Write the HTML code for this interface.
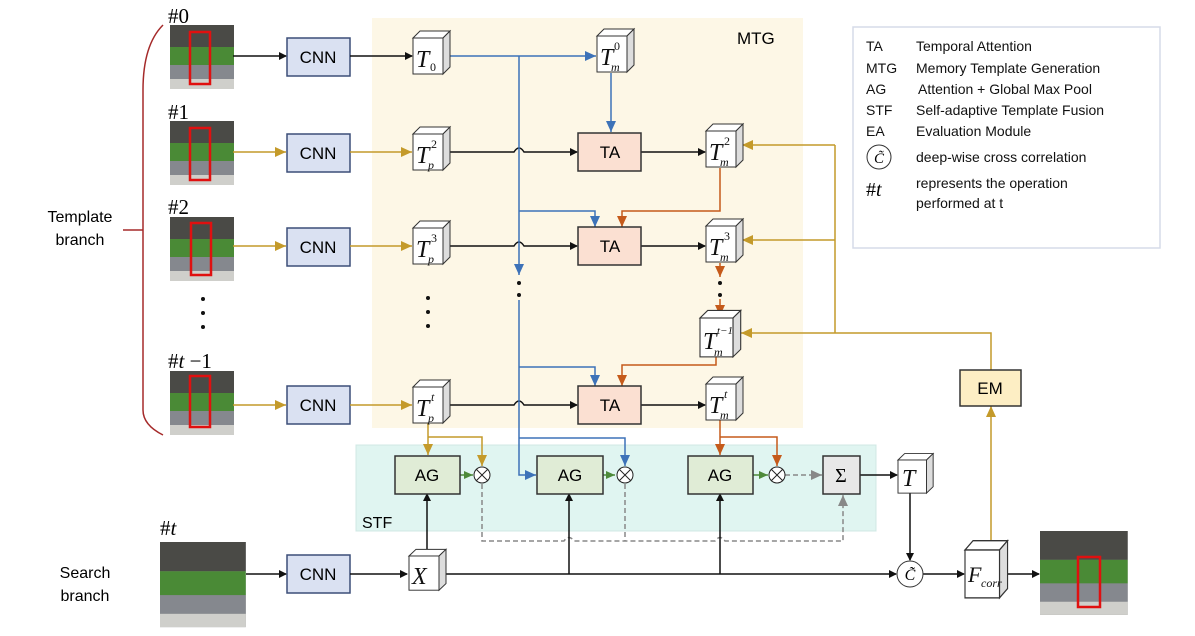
<!DOCTYPE html>
<html><head><meta charset="utf-8"><style>
html,body{margin:0;padding:0;background:#fff;}
svg{display:block;font-family:"Liberation Sans",sans-serif;}
.s{font-family:"Liberation Serif",serif;font-style:italic;}
.n{font-family:"Liberation Serif",serif;font-style:normal;}
</style></head><body>
<svg width="1195" height="636" viewBox="0 0 1195 636" xmlns="http://www.w3.org/2000/svg">
<defs>
<g id="cube"><path d="M0,0 L7,-7 L37,-7 L30,0 Z" fill="#fff" stroke="#333" stroke-width="1"/><path d="M30,0 L37,-7 L37,29 L30,36 Z" fill="#ddd" stroke="#333" stroke-width="1"/><rect x="0" y="0" width="30" height="36" fill="#fff" stroke="#333" stroke-width="1"/></g>
<marker id="ak" markerWidth="8" markerHeight="8" refX="7" refY="4" orient="auto" markerUnits="userSpaceOnUse"><path d="M0,0 L8,4 L0,8 Z" fill="#111"/></marker>
<marker id="ag" markerWidth="12" markerHeight="12" refX="11" refY="5" orient="auto" markerUnits="userSpaceOnUse"><path d="M0,0 L11,5 L0,10 Z" fill="#c49a2a"/></marker>
<marker id="ab" markerWidth="12" markerHeight="12" refX="11" refY="5" orient="auto" markerUnits="userSpaceOnUse"><path d="M0,0 L11,5 L0,10 Z" fill="#3d72b8"/></marker>
<marker id="ao" markerWidth="12" markerHeight="12" refX="11" refY="5" orient="auto" markerUnits="userSpaceOnUse"><path d="M0,0 L11,5 L0,10 Z" fill="#c55a1a"/></marker>
<marker id="agr" markerWidth="10" markerHeight="10" refX="9" refY="4" orient="auto" markerUnits="userSpaceOnUse"><path d="M0,0 L9,4 L0,8 Z" fill="#4e8a3a"/></marker>
<marker id="ay" markerWidth="12" markerHeight="12" refX="11" refY="5" orient="auto" markerUnits="userSpaceOnUse"><path d="M0,0 L11,5 L0,10 Z" fill="#888"/></marker>
<g id="img"><rect x="0" y="0" width="64" height="64" fill="#8a8a8a"/><rect x="0" y="0" width="64" height="22" fill="#4a4a46"/><rect x="0" y="22" width="64" height="18" fill="#4a8a36"/><rect x="0" y="40" width="64" height="14" fill="#85888e"/><rect x="0" y="54" width="64" height="10" fill="#cfcfcb"/></g>
</defs>

<rect x="372" y="18" width="431" height="410" fill="#fdf7e6"/>
<rect x="356" y="445" width="520" height="86" fill="#e0f5f1" stroke="#d0e8e4"/>
<text x="737" y="44" font-size="17">MTG</text>
<text x="362" y="528" font-size="16">STF</text>

<rect x="853" y="27" width="307" height="221" fill="#fff" stroke="#d6dbe8" stroke-width="1.5"/>
<g font-size="14" fill="#111">
<text x="866" y="51">TA</text><text x="916" y="51">Temporal Attention</text>
<text x="866" y="73">MTG</text><text x="916" y="73">Memory Template Generation</text>
<text x="866" y="94">AG</text><text x="918" y="94">Attention + Global Max Pool</text>
<text x="866" y="115">STF</text><text x="916" y="115">Self-adaptive Template Fusion</text>
<text x="866" y="136">EA</text><text x="916" y="136">Evaluation Module</text>
<text x="916" y="162">deep-wise cross correlation</text>
<text x="916" y="188">represents the operation</text>
<text x="916" y="208">performed at t</text>
</g>
<circle cx="879" cy="157" r="12" fill="#fff" stroke="#333"/><text x="879" y="163" class="s" font-size="15" text-anchor="middle">C̃</text>
<text x="866" y="196" font-size="20"><tspan class="n">#</tspan><tspan class="s">t</tspan></text>

<path d="M163,25 Q143,45 143,90 L143,410 Q143,425 163,435" fill="none" stroke="#a52a2a" stroke-width="1.5"/>
<line x1="123" y1="230" x2="143" y2="230" stroke="#a52a2a" stroke-width="1.5"/>
<text x="80" y="222" font-size="16" text-anchor="middle">Template</text>
<text x="80" y="245" font-size="16" text-anchor="middle">branch</text>
<text x="85" y="578" font-size="16" text-anchor="middle">Search</text>
<text x="85" y="601" font-size="16" text-anchor="middle">branch</text>

<use href="#img" x="170" y="25"/><rect x="190" y="32" width="20" height="52" fill="none" stroke="#e01010" stroke-width="2.5"/>
<use href="#img" x="170" y="121"/><rect x="190" y="128" width="20" height="52" fill="none" stroke="#e01010" stroke-width="2.5"/>
<use href="#img" x="170" y="217"/><rect x="191" y="223" width="20" height="52" fill="none" stroke="#e01010" stroke-width="2.5"/>
<use href="#img" x="170" y="371"/><rect x="190" y="376" width="20" height="51" fill="none" stroke="#e01010" stroke-width="2.5"/>
<use href="#img" x="160" y="542" transform="translate(160,542) scale(1.34,1.33) translate(-160,-542)"/>
<use href="#img" x="1040" y="531" transform="translate(1040,531) scale(1.37,1.31) translate(-1040,-531)"/><rect x="1078" y="557" width="22" height="50" fill="none" stroke="#e01010" stroke-width="2.5"/>
<g font-size="21" class="n">
<text x="168" y="23">#0</text><text x="168" y="119">#1</text><text x="168" y="214">#2</text>
<text x="168" y="368">#<tspan class="s">t</tspan> −1</text><text x="160" y="535">#<tspan class="s">t</tspan></text>
</g>
<g fill="#111"><circle cx="203" cy="299" r="2"/><circle cx="203" cy="313" r="2"/><circle cx="203" cy="327" r="2"/>
<circle cx="428" cy="298" r="2"/><circle cx="428" cy="312" r="2"/><circle cx="428" cy="326" r="2"/>
<circle cx="519" cy="283" r="2"/><circle cx="519" cy="295" r="2"/><circle cx="720" cy="283" r="2"/><circle cx="720" cy="295" r="2"/></g>

<g fill="#dae1f2" stroke="#3c4e78" stroke-width="1.5">
<rect x="287" y="38" width="63" height="38"/><rect x="287" y="134" width="63" height="38"/><rect x="287" y="228" width="63" height="38"/><rect x="287" y="386" width="63" height="38"/><rect x="287" y="555" width="63" height="38"/></g>
<g font-size="17" text-anchor="middle"><text x="318" y="63">CNN</text><text x="318" y="159">CNN</text><text x="318" y="253">CNN</text><text x="318" y="411">CNN</text><text x="318" y="580">CNN</text></g>

<g stroke-width="1.5" fill="none">
<line x1="233" y1="56" x2="286" y2="56" stroke="#111" marker-end="url(#ak)"/>
<line x1="350" y1="56" x2="412" y2="56" stroke="#111" marker-end="url(#ak)"/>
<line x1="233" y1="152" x2="286" y2="152" stroke="#c49a2a" marker-end="url(#ag)"/>
<line x1="350" y1="152" x2="412" y2="152" stroke="#c49a2a" marker-end="url(#ag)"/>
<line x1="233" y1="246" x2="286" y2="246" stroke="#c49a2a" marker-end="url(#ag)"/>
<line x1="350" y1="246" x2="412" y2="246" stroke="#c49a2a" marker-end="url(#ag)"/>
<line x1="233" y1="405" x2="286" y2="405" stroke="#c49a2a" marker-end="url(#ag)"/>
<line x1="350" y1="405" x2="412" y2="405" stroke="#c49a2a" marker-end="url(#ag)"/>
<line x1="246" y1="574" x2="286" y2="574" stroke="#111" marker-end="url(#ak)"/>
<line x1="350" y1="574" x2="407" y2="574" stroke="#111" marker-end="url(#ak)"/>
<path d="M443,152 L514,152 Q519,144 524,152 L577,152" stroke="#111" marker-end="url(#ak)"/>
<path d="M443,246 L514,246 Q519,238 524,246 L577,246" stroke="#111" marker-end="url(#ak)"/>
<path d="M443,405 L514,405 Q519,397 524,405 L577,405" stroke="#111" marker-end="url(#ak)"/>
<line x1="641" y1="152" x2="705" y2="152" stroke="#111" marker-end="url(#ak)"/>
<line x1="641" y1="246" x2="705" y2="246" stroke="#111" marker-end="url(#ak)"/>
<line x1="641" y1="405" x2="705" y2="405" stroke="#111" marker-end="url(#ak)"/>
<line x1="443" y1="56" x2="596" y2="56" stroke="#3d72b8" marker-end="url(#ab)"/>
<line x1="611" y1="73" x2="611" y2="132" stroke="#3d72b8" marker-end="url(#ab)"/>
<line x1="519" y1="56" x2="519" y2="275" stroke="#3d72b8" marker-end="url(#ab)"/>
<path d="M519,300 L519,475 L536,475" stroke="#3d72b8" marker-end="url(#ab)"/>
<path d="M519,211 L595,211 L595,227" stroke="#3d72b8" marker-end="url(#ab)"/>
<path d="M519,367 L595,367 L595,386" stroke="#3d72b8" marker-end="url(#ab)"/>
<path d="M519,438 L625,438 L625,466" stroke="#3d72b8" marker-end="url(#ab)"/>
<path d="M720,168 L720,211 L622,211 L622,227" stroke="#c55a1a" marker-end="url(#ao)"/>
<line x1="720" y1="263" x2="720" y2="277" stroke="#c55a1a" marker-end="url(#ao)"/>
<line x1="720" y1="299" x2="720" y2="316" stroke="#c55a1a" marker-end="url(#ao)"/>
<path d="M716,356 L716,365 L622,365 L622,386" stroke="#c55a1a" marker-end="url(#ao)"/>
<path d="M720,420 L720,455" stroke="#c55a1a" marker-end="url(#ao)"/>
<path d="M720,437 L777,437 L777,466" stroke="#c55a1a" marker-end="url(#ao)"/>
<path d="M428,422 L428,455" stroke="#c49a2a" marker-end="url(#ag)"/>
<path d="M428,437 L482,437 L482,466" stroke="#c49a2a" marker-end="url(#ag)"/>
<line x1="460" y1="475" x2="473" y2="475" stroke="#4e8a3a" marker-end="url(#agr)"/>
<line x1="603" y1="475" x2="615" y2="475" stroke="#4e8a3a" marker-end="url(#agr)"/>
<line x1="753" y1="475" x2="768" y2="475" stroke="#4e8a3a" marker-end="url(#agr)"/>
<line x1="785" y1="475" x2="822" y2="475" stroke="#888" stroke-dasharray="5,3" marker-end="url(#ay)"/>
<path d="M482,484 L482,541 L564,541 Q569,534 574,541 L715,541 Q720,534 725,541 L843,541 L843,495" stroke="#888" stroke-dasharray="5,3" marker-end="url(#ay)"/>
<line x1="625" y1="484" x2="625" y2="541" stroke="#888" stroke-dasharray="5,3"/>
<line x1="427" y1="556" x2="427" y2="494" stroke="#111" marker-end="url(#ak)"/>
<line x1="440" y1="574" x2="896" y2="574" stroke="#111" marker-end="url(#ak)"/>
<line x1="569" y1="574" x2="569" y2="494" stroke="#111" marker-end="url(#ak)"/>
<line x1="720" y1="574" x2="720" y2="494" stroke="#111" marker-end="url(#ak)"/>
<line x1="860" y1="475" x2="897" y2="475" stroke="#111" marker-end="url(#ak)"/>
<line x1="910" y1="492" x2="910" y2="560" stroke="#111" marker-end="url(#ak)"/>
<line x1="923" y1="574" x2="964" y2="574" stroke="#111" marker-end="url(#ak)"/>
<line x1="1005" y1="574" x2="1039" y2="574" stroke="#111" marker-end="url(#ak)"/>
<line x1="991" y1="548" x2="991" y2="406" stroke="#c49a2a" marker-end="url(#ag)"/>
<path d="M991,370 L991,333 L835,333" stroke="#c49a2a"/>
<line x1="835" y1="145" x2="835" y2="333" stroke="#c49a2a"/>
<line x1="835" y1="145" x2="742" y2="145" stroke="#c49a2a" marker-end="url(#ag)"/>
<line x1="835" y1="240" x2="742" y2="240" stroke="#c49a2a" marker-end="url(#ag)"/>
<line x1="835" y1="333" x2="741" y2="333" stroke="#c49a2a" marker-end="url(#ag)"/>
</g>

<g fill="#fbe0d2" stroke="#333" stroke-width="1.5">
<rect x="578" y="133" width="63" height="38"/><rect x="578" y="227" width="63" height="38"/><rect x="578" y="386" width="63" height="38"/></g>
<g font-size="17" text-anchor="middle"><text x="610" y="158">TA</text><text x="610" y="252">TA</text><text x="610" y="411">TA</text></g>
<g fill="#e0ecd6" stroke="#333" stroke-width="1.5">
<rect x="395" y="456" width="65" height="38"/><rect x="537" y="456" width="66" height="38"/><rect x="688" y="456" width="65" height="38"/></g>
<g font-size="17" text-anchor="middle"><text x="427" y="481">AG</text><text x="570" y="481">AG</text><text x="720" y="481">AG</text></g>
<g fill="#fff" stroke="#222" stroke-width="1"><circle cx="482" cy="475" r="8"/><circle cx="625" cy="475" r="8"/><circle cx="777" cy="475" r="8"/></g>
<g stroke="#222" stroke-width="1"><path d="M476,469 L488,481 M488,469 L476,481"/><path d="M619,469 L631,481 M631,469 L619,481"/><path d="M771,469 L783,481 M783,469 L771,481"/></g>
<rect x="823" y="456" width="37" height="38" fill="#e8e8e8" stroke="#333" stroke-width="1.5"/>
<text x="841" y="482" font-size="20" text-anchor="middle" font-family="Liberation Serif,serif">Σ</text>
<rect x="960" y="370" width="61" height="36" fill="#fdeec4" stroke="#333" stroke-width="1.5"/>
<text x="990" y="394" font-size="17" text-anchor="middle">EM</text>
<circle cx="910" cy="574" r="13" fill="#fff" stroke="#333"/><text x="910" y="580" class="s" font-size="16" text-anchor="middle">C̃</text>

<use href="#cube" transform="translate(413,38)"/>
<use href="#cube" transform="translate(597,36)"/>
<use href="#cube" transform="translate(413,134)"/>
<use href="#cube" transform="translate(413,228)"/>
<use href="#cube" transform="translate(413,387)"/>
<use href="#cube" transform="translate(706,131)"/>
<use href="#cube" transform="translate(706,226)"/>
<use href="#cube" transform="translate(700,318) scale(1.1,1.08)"/>
<use href="#cube" transform="translate(706,384)"/>
<use href="#cube" transform="translate(898,460) scale(0.95,0.92)"/>
<use href="#cube" transform="translate(409,556) scale(1,0.95)"/>
<use href="#cube" transform="translate(965,550) scale(1.15,1.33)"/>
<g fill="#111">
<text x="416" y="67" font-size="24" class="s">T</text><text x="430" y="71" font-size="12" class="n">0</text>
<text x="600" y="65" font-size="24" class="s">T</text><text x="614" y="50" font-size="12" class="n">0</text><text x="611" y="71" font-size="12" class="s">m</text>
<text x="416" y="163" font-size="24" class="s">T</text><text x="431" y="148" font-size="12" class="n">2</text><text x="428" y="169" font-size="12" class="s">p</text>
<text x="416" y="257" font-size="24" class="s">T</text><text x="431" y="242" font-size="12" class="n">3</text><text x="428" y="263" font-size="12" class="s">p</text>
<text x="416" y="416" font-size="24" class="s">T</text><text x="431" y="401" font-size="12" class="s">t</text><text x="428" y="422" font-size="12" class="s">p</text>
<text x="709" y="160" font-size="24" class="s">T</text><text x="724" y="145" font-size="12" class="n">2</text><text x="720" y="166" font-size="12" class="s">m</text>
<text x="709" y="255" font-size="24" class="s">T</text><text x="724" y="240" font-size="12" class="n">3</text><text x="720" y="261" font-size="12" class="s">m</text>
<text x="703" y="349" font-size="24" class="s">T</text><text x="717" y="334" font-size="11" class="s">t−1</text><text x="714" y="356" font-size="12" class="s">m</text>
<text x="709" y="413" font-size="24" class="s">T</text><text x="724" y="398" font-size="12" class="s">t</text><text x="720" y="419" font-size="12" class="s">m</text>
<text x="902" y="486" font-size="24" class="s">T</text>
<text x="412" y="584" font-size="24" class="s">X</text>
<text x="968" y="582" font-size="22" class="s">F</text><text x="981" y="587" font-size="12" class="s">corr</text>
</g>
</svg>
</body></html>
